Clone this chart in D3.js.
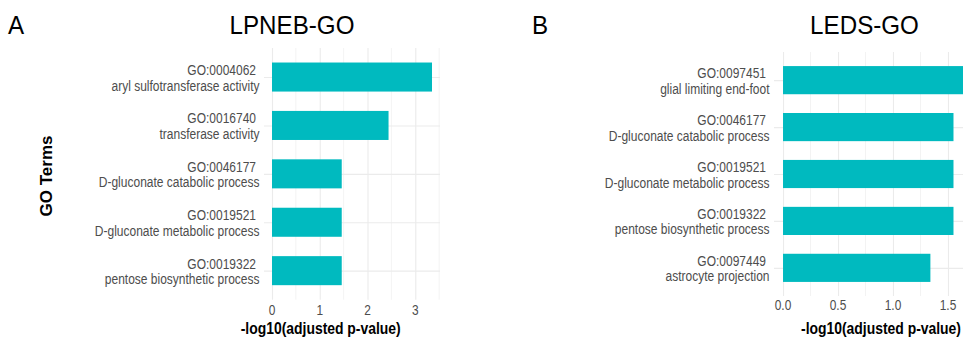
<!DOCTYPE html>
<html>
<head>
<meta charset="utf-8">
<script src="https://cdn.jsdelivr.net/npm/d3@7"></script>
<style>
  body { margin: 0; background: #fff; }
  svg { display: block; }
  text { font-family: "Liberation Sans", Arial, Helvetica, sans-serif; }
</style>
</head>
<body>
<svg id="chart" width="963" height="342"></svg>
<script>
// Panel A: LPNEB enrichment
const termsA = ["GO:0004062", "GO:0016740", "GO:0046177", "GO:0019521", "GO:0019322"];
const namesA = ["aryl sulfotransferase activity", "transferase activity",
  "D-gluconate catabolic process", "D-gluconate metabolic process", "pentose biosynthetic process"];
const valuesA = [3.35, 2.44, 1.46, 1.46, 1.46];
const ticksA = [0, 1, 2, 3];
const tickLabelsA = ["0", "1", "2", "3"];

// Panel B: LEDS enrichment
const termsB = ["GO:0097451", "GO:0046177", "GO:0019521", "GO:0019322", "GO:0097449"];
const namesB = ["glial limiting end-foot", "D-gluconate catabolic process",
  "D-gluconate metabolic process", "pentose biosynthetic process", "astrocyte projection"];
const valuesB = [1.64, 1.55, 1.55, 1.55, 1.34];
const ticksB = [0, 0.5, 1.0, 1.5];
const tickLabelsB = ["0.0", "0.5", "1.0", "1.5"];

const BAR = "#00BABF";
const GRID = "#EBEBEB";
const GREY = "#4D4D4D";

const svg = d3.select("#chart");

// text narrowed horizontally (condensed look)
function label(g, x, y, txt, o) {
  return g.append("text")
    .attr("transform", `translate(${x},${y}) scale(${o.sx || 1},1)`)
    .attr("text-anchor", o.anchor || "start")
    .attr("font-size", o.size)
    .attr("font-weight", o.weight || "normal")
    .attr("fill", o.fill || "#000")
    .text(txt);
}

function panel(cfg) {
  const g = svg.append("g");
  const maxV = d3.max(cfg.values);
  const x = d3.scaleLinear()
    .domain([-0.05 * maxV, 1.05 * maxV])
    .range([cfg.left, cfg.right]);
  const y = d3.scalePoint()
    .domain(cfg.terms)
    .range([cfg.top, cfg.bottom])
    .padding(0.6);
  const bh = y.step() * 0.6;

  // minor vertical grid
  const minor = d3.range(0, cfg.values.length).map(() => 0); // placeholder
  const minorTicks = cfg.minor.filter(v => v >= x.domain()[0] && v <= x.domain()[1]);
  g.append("g").selectAll("line").data(minorTicks).join("line")
    .attr("x1", d => x(d)).attr("x2", d => x(d))
    .attr("y1", cfg.top).attr("y2", cfg.bottom)
    .attr("stroke", GRID).attr("stroke-width", 0.6);

  // major vertical grid via axis
  const gx = g.append("g")
    .attr("transform", `translate(0,${cfg.bottom})`)
    .call(d3.axisBottom(x).tickValues(cfg.ticks).tickSize(-(cfg.bottom - cfg.top)).tickFormat(""));
  gx.select(".domain").remove();
  gx.selectAll(".tick line").attr("stroke", GRID).attr("stroke-width", 1.1);

  // horizontal grid per term
  const gy = g.append("g")
    .attr("transform", `translate(${cfg.left},0)`)
    .call(d3.axisLeft(y).tickSize(-(cfg.right - cfg.left)).tickFormat(""));
  gy.select(".domain").remove();
  gy.selectAll(".tick line").attr("stroke", GRID).attr("stroke-width", 1.1);

  // bars
  g.append("g").selectAll("rect").data(cfg.terms).join("rect")
    .attr("x", x(0))
    .attr("y", d => y(d) - bh / 2)
    .attr("width", (d, i) => x(cfg.values[i]) - x(0))
    .attr("height", bh)
    .attr("fill", BAR);

  // term labels (id on first line, name on second)
  cfg.terms.forEach((t, i) => {
    const cy = y(t);
    label(g, cfg.left - 8, cy - 2, t, { size: 15, sx: 0.8, anchor: "end", fill: GREY });
    label(g, cfg.left - 4.5, cy + 13.5, cfg.names[i], { size: 15, sx: 0.8, anchor: "end", fill: GREY });
  });

  // x tick labels
  cfg.ticks.forEach((v, i) => {
    label(g, x(v), cfg.tickY, cfg.tickLabels[i], { size: 14, sx: 0.85, anchor: "middle", fill: GREY });
  });

  // axis title
  label(g, cfg.axisX, 334, "-log10(adjusted p-value)", { size: 16, sx: 0.87, anchor: "middle", weight: "bold" });

  // panel title and tag
  label(g, cfg.titleX, 34, cfg.title, { size: 26, sx: 0.93, anchor: "middle" });
  label(g, cfg.tagX, 34, cfg.tag, { size: 26, sx: 0.93, anchor: "start" });
}

panel({
  tag: "A", title: "LPNEB-GO", terms: termsA, names: namesA, values: valuesA,
  ticks: ticksA, tickLabels: tickLabelsA, minor: [0.5, 1.5, 2.5, 3.5],
  left: 264, right: 440, top: 48, bottom: 299.7,
  tickY: 315, axisX: 320.7, titleX: 292, tagX: 8
});

panel({
  tag: "B", title: "LEDS-GO", terms: termsB, names: namesB, values: valuesB,
  ticks: ticksB, tickLabels: tickLabelsB, minor: [0.25, 0.75, 1.25, 1.75],
  left: 774, right: 972.4, top: 52, bottom: 296,
  tickY: 310, axisX: 881, titleX: 864.5, tagX: 532
});

// shared y-axis title
svg.append("text")
  .attr("transform", "translate(52,176) rotate(-90)")
  .attr("text-anchor", "middle")
  .attr("font-size", 17)
  .attr("font-weight", "bold")
  .attr("fill", "#000")
  .text("GO Terms");
</script>
</body>
</html>
